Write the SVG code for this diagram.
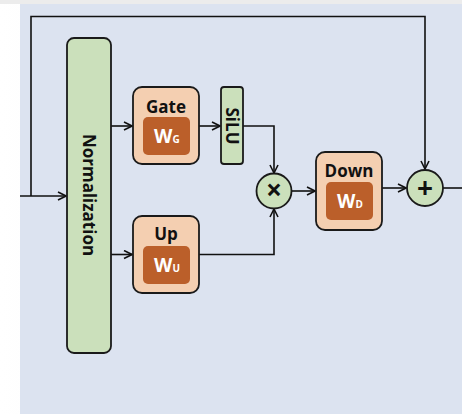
<svg xmlns="http://www.w3.org/2000/svg" width="462" height="414" viewBox="0 0 462 414">
<defs>
<linearGradient id="lg" x1="0" y1="0" x2="1" y2="0">
<stop offset="0" stop-color="#ffffff"/>
<stop offset="1" stop-color="#eeeeee"/>
</linearGradient>
<marker id="ah" viewBox="0 0 10 10" refX="9" refY="5" markerWidth="10" markerHeight="10" markerUnits="userSpaceOnUse" orient="auto">
<path d="M1,1 L9,5 L1,9" fill="none" stroke="#111" stroke-width="1.6"/>
</marker>
<style>
.ln{fill:none;stroke:#111;stroke-width:1.6}
.grn{fill:#cbe0bb;stroke:#1a1a1a;stroke-width:1.8}
.pch{fill:#f4cfb1;stroke:#1a1a1a;stroke-width:1.8}
.brn{fill:#bb5f2a}
.lbl{font-family:"Open Sans","Liberation Sans",sans-serif;font-weight:bold;font-size:17px;fill:#111;text-anchor:middle}
.w{font-family:"Open Sans","Liberation Sans",sans-serif;font-weight:bold;font-size:19px;fill:#fff}
.ws{font-size:10px}
.op{font-family:"Open Sans","Liberation Sans",sans-serif;font-weight:bold;font-size:28px;fill:#111;text-anchor:middle}
</style>
</defs>
<rect x="0" y="0" width="462" height="414" fill="url(#lg)"/>
<rect x="0" y="0" width="462" height="4" fill="#ececec"/>
<rect x="20" y="4" width="442" height="410" fill="#dce3f0"/>
<g id="connectors">
<path class="ln" d="M20,196 H66" marker-end="url(#ah)"/>
<path class="ln" d="M31,196 V16.5 H425 V169" marker-end="url(#ah)"/>
<path class="ln" d="M111,126 H132" marker-end="url(#ah)"/>
<path class="ln" d="M111,254.5 H132" marker-end="url(#ah)"/>
<path class="ln" d="M199,126 H220" marker-end="url(#ah)"/>
<path class="ln" d="M243,126 H274 V173" marker-end="url(#ah)"/>
<path class="ln" d="M199,254.5 H274 V209" marker-end="url(#ah)"/>
<path class="ln" d="M291,191 H315" marker-end="url(#ah)"/>
<path class="ln" d="M382,188 H406" marker-end="url(#ah)"/>
<path class="ln" d="M443,188 H462"/>
</g>
<g id="normalization">
<rect class="grn" x="67" y="38" width="44" height="315" rx="7"/>
<text class="lbl" transform="translate(89,195) rotate(90)" y="6">Normalization</text>
</g>
<g id="gate">
<rect class="pch" x="133" y="87" width="66" height="77" rx="9"/>
<text class="lbl" x="166" y="113">Gate</text>
<rect class="brn" x="143" y="117" width="47" height="38" rx="5"/>
<text class="w" x="154" y="143">W<tspan class="ws" dx="0">G</tspan></text>
</g>
<g id="silu">
<rect class="grn" x="221" y="87" width="22" height="77" rx="3"/>
<text class="lbl" transform="translate(232,126) rotate(90)" y="6">SiLU</text>
</g>
<g id="up">
<rect class="pch" x="133" y="216" width="66" height="77" rx="9"/>
<text class="lbl" x="166" y="240">Up</text>
<rect class="brn" x="143" y="246" width="47" height="38" rx="5"/>
<text class="w" x="154" y="272">W<tspan class="ws" dx="0">U</tspan></text>
</g>
<g id="multiply">
<circle class="grn" cx="274" cy="191" r="17.5"/>
<text class="op" x="274" y="200">×</text>
</g>
<g id="down">
<rect class="pch" x="316" y="152" width="66" height="78" rx="9"/>
<text class="lbl" x="349" y="177">Down</text>
<rect class="brn" x="326" y="182" width="47" height="38" rx="5"/>
<text class="w" x="337" y="208">W<tspan class="ws" dx="0">D</tspan></text>
</g>
<g id="add">
<circle class="grn" cx="425" cy="188" r="18"/>
<text class="op" x="425" y="198">+</text>
</g>
</svg>
